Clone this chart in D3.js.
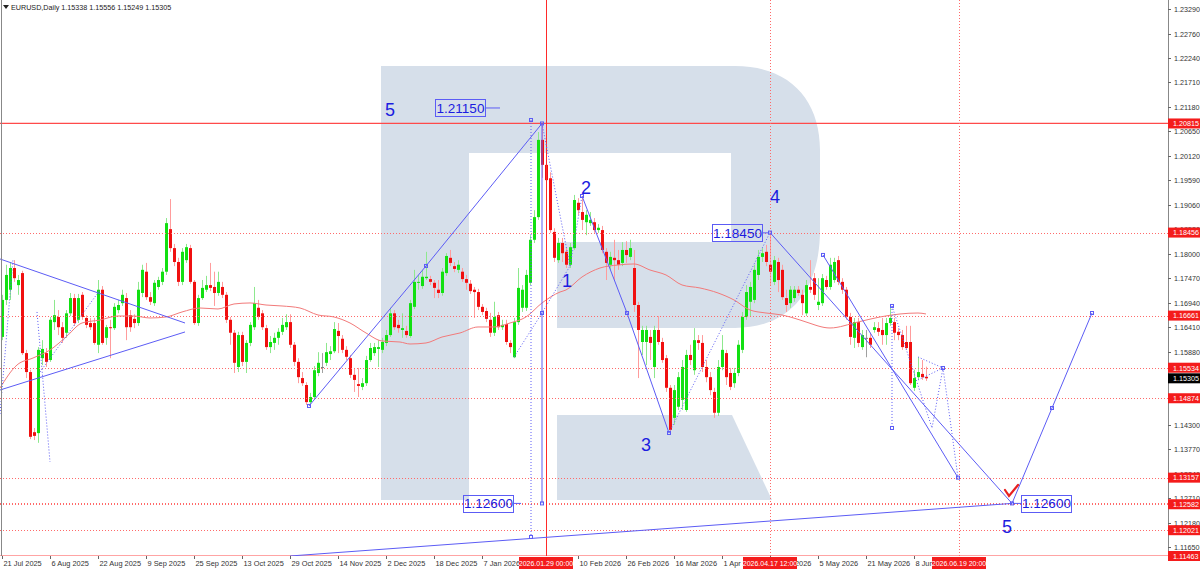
<!DOCTYPE html>
<html><head><meta charset="utf-8">
<script src="https://cdn.jsdelivr.net/npm/d3@7/dist/d3.min.js"></script>
<style>
html,body{margin:0;padding:0;background:#fff;overflow:hidden;}
svg{display:block;}
text{font-family:"Liberation Sans",Arial,sans-serif;}
</style></head><body>
<svg id="c" width="1200" height="569"></svg>
<script>
// ---------------- DATA ----------------
const headerText = "EURUSD,Daily  1.15338 1.15556 1.15249 1.15305";

const open = [
1.1620,1.1700,1.1722,1.1769,1.1732,1.1758,1.1585,1.1544,1.1414,1.1412,
1.1574,1.1585,1.1570,1.1652,1.1663,1.1641,1.1629,1.1671,1.1704,1.1657,
1.1711,1.1661,1.1650,1.1650,1.1603,1.1722,1.1618,1.1641,1.1639,1.1678,
1.1693,1.1704,1.1667,1.1659,1.1650,1.1715,1.1761,1.1706,1.1693,1.1728,
1.1739,1.1761,1.1853,1.1812,1.1782,1.1739,1.1786,1.1812,1.1739,1.1650,
1.1704,1.1722,1.1732,1.1728,1.1715,1.1728,1.1711,1.1657,1.1629,1.1555,
1.1624,1.1566,1.1607,1.1641,1.1683,1.1671,1.1639,1.1598,1.1607,1.1618,
1.1631,1.1641,1.1652,1.1603,1.1566,1.1531,1.1516,1.1479,1.1490,1.1542,
1.1555,1.1564,1.1583,1.1589,1.1633,1.1616,1.1592,1.1574,1.1538,1.1518,
1.1512,1.1520,1.1570,1.1585,1.1594,1.1592,1.1607,1.1624,1.1671,1.1646,
1.1635,1.1633,1.1622,1.1685,1.1737,1.1730,1.1747,1.1745,1.1737,1.1722,
1.1715,1.1758,1.1791,1.1773,1.1765,1.1761,1.1745,1.1735,1.1722,1.1717,
1.1685,1.1676,1.1657,1.1629,1.1667,1.1641,1.1648,1.1607,1.1576,1.1652,
1.1683,1.1683,1.1737,1.1830,1.1879,1.2046,1.1992,1.1963,1.1847,1.1786,
1.1823,1.1804,1.1776,1.1812,1.1910,1.1890,1.1868,1.1866,1.1868,1.1851,
1.1851,1.1804,1.1776,1.1791,1.1786,1.1780,1.1808,1.1793,1.1769,1.1689,
1.1609,1.1609,1.1620,1.1555,1.1635,1.1609,1.1574,1.1510,1.1445,1.1469,
1.1484,1.1462,1.1581,1.1548,1.1613,1.1607,1.1555,1.1533,1.1501,1.1456,
1.1555,1.1585,1.1542,1.1520,1.1542,1.1592,1.1663,1.1696,1.1700,1.1754,
1.1793,1.1804,1.1776,1.1739,1.1782,1.1765,1.1704,1.1693,1.1704,1.1722,
1.1711,1.1671,1.1728,1.1747,1.1689,1.1693,1.1743,1.1728,1.1743,1.1786,
1.1739,1.1722,1.1663,1.1618,1.1652,1.1598,1.1618,1.1618,1.1635,1.1639,
1.1635,1.1624,1.1650,1.1652,1.1631,1.1624,1.1609,1.1609,1.1510,1.1533,
1.1540,1.15338];

const high = [
1.1711,1.1776,1.1782,1.1786,1.1754,1.1763,1.1592,1.1549,1.1423,1.1598,
1.1613,1.1596,1.1663,1.1700,1.1678,1.1652,1.1678,1.1715,1.1713,1.1713,
1.1717,1.1667,1.1661,1.1661,1.1743,1.1730,1.1646,1.1657,1.1693,1.1700,
1.1722,1.1715,1.1678,1.1669,1.1739,1.1776,1.1780,1.1717,1.1743,1.1750,
1.1769,1.1877,1.1918,1.1821,1.1791,1.1812,1.1821,1.1819,1.1743,1.1711,
1.1743,1.1752,1.1780,1.1761,1.1761,1.1739,1.1717,1.1663,1.1635,1.1631,
1.1631,1.1613,1.1652,1.1728,1.1700,1.1678,1.1646,1.1622,1.1629,1.1639,
1.1661,1.1669,1.1669,1.1609,1.1574,1.1544,1.1522,1.1499,1.1557,1.1587,
1.1585,1.1607,1.1600,1.1652,1.1650,1.1624,1.1600,1.1581,1.1553,1.1553,
1.1531,1.1579,1.1607,1.1607,1.1613,1.1618,1.1635,1.1683,1.1678,1.1657,
1.1671,1.1644,1.1700,1.1765,1.1754,1.1765,1.1804,1.1752,1.1743,1.1743,
1.1769,1.1801,1.1808,1.1782,1.1786,1.1769,1.1754,1.1743,1.1728,1.1724,
1.1691,1.1683,1.1672,1.1696,1.1674,1.1657,1.1657,1.1613,1.1661,1.1769,
1.1732,1.1765,1.1840,1.1894,1.2063,1.20815,1.2024,1.1976,1.1855,1.1834,
1.1834,1.1812,1.1823,1.1927,1.1920,1.1925,1.1894,1.1890,1.1877,1.1864,
1.1860,1.1812,1.1804,1.1830,1.1808,1.1825,1.1827,1.1830,1.1808,1.1696,
1.1644,1.1644,1.1635,1.1644,1.1665,1.1618,1.1581,1.1516,1.1516,1.1544,
1.1570,1.1592,1.1603,1.1639,1.1624,1.1624,1.1570,1.1544,1.1510,1.1570,
1.1624,1.1592,1.1553,1.1553,1.1613,1.1674,1.1732,1.1739,1.1776,1.1808,
1.1812,1.1819,1.18456,1.1795,1.1791,1.1776,1.1722,1.1730,1.1730,1.1730,
1.1722,1.1743,1.1786,1.1758,1.1747,1.1756,1.1752,1.1791,1.1791,1.1795,
1.1747,1.1728,1.1672,1.1661,1.1661,1.1635,1.1635,1.1629,1.1652,1.1652,
1.1661,1.1661,1.1689,1.1661,1.1639,1.1635,1.1644,1.1644,1.1549,1.1576,
1.1570,1.15556];

const low = [
1.1613,1.1689,1.1700,1.1739,1.1711,1.1581,1.1531,1.1399,1.1397,1.1391,
1.1559,1.1555,1.1566,1.1635,1.1624,1.1607,1.1618,1.1665,1.1644,1.1650,
1.1657,1.1639,1.1635,1.1603,1.1585,1.1603,1.1603,1.1574,1.1635,1.1671,
1.1687,1.1613,1.1631,1.1639,1.1644,1.1706,1.1700,1.1689,1.1687,1.1722,
1.1732,1.1754,1.1804,1.1773,1.1730,1.1732,1.1780,1.1735,1.1646,1.1644,
1.1700,1.1717,1.1719,1.1687,1.1709,1.1704,1.1650,1.1603,1.1542,1.1544,
1.1557,1.1542,1.1600,1.1635,1.1657,1.1635,1.1592,1.1585,1.1592,1.1603,
1.1624,1.1635,1.1596,1.1557,1.1520,1.1514,1.1473,1.1468,1.1484,1.1535,
1.1542,1.1557,1.1570,1.1585,1.1585,1.1585,1.1570,1.1531,1.1501,1.1490,
1.1505,1.1514,1.1566,1.1579,1.1555,1.1585,1.1600,1.1620,1.1635,1.1629,
1.1618,1.1618,1.1618,1.1680,1.1722,1.1724,1.1743,1.1732,1.1704,1.1704,
1.1709,1.1752,1.1773,1.1760,1.1758,1.1739,1.1722,1.1713,1.1661,1.1678,
1.1667,1.1652,1.1620,1.1622,1.1635,1.1635,1.1603,1.1585,1.1574,1.1646,
1.1674,1.1676,1.1732,1.1823,1.1873,1.1964,1.1894,1.1845,1.1782,1.1780,
1.1782,1.1769,1.1769,1.1808,1.1884,1.1851,1.1840,1.1860,1.1845,1.1845,
1.1801,1.1743,1.1765,1.1743,1.1765,1.1773,1.1780,1.1786,1.1674,1.1531,
1.1581,1.1559,1.1570,1.1531,1.1603,1.1564,1.1501,1.1412,1.1430,1.1462,
1.1462,1.1458,1.1559,1.1538,1.1592,1.1544,1.1522,1.1494,1.1445,1.1449,
1.1548,1.1516,1.1505,1.1510,1.1535,1.1585,1.1657,1.1665,1.1693,1.1743,
1.1782,1.1773,1.1732,1.1732,1.1717,1.1700,1.1674,1.1683,1.1696,1.1709,
1.1667,1.1665,1.1715,1.1700,1.1678,1.1687,1.1722,1.1722,1.1737,1.1732,
1.1713,1.1657,1.1603,1.1596,1.1598,1.1592,1.1576,1.1596,1.1629,1.1622,
1.1603,1.1603,1.1644,1.1613,1.1613,1.1592,1.1592,1.1516,1.1503,1.1527,
1.1527,1.15249];

const close = [
1.1700,1.1754,1.1769,1.1747,1.1743,1.1585,1.1544,1.1404,1.1406,1.1592,
1.1594,1.1566,1.1657,1.1667,1.1641,1.1618,1.1671,1.1704,1.1650,1.1704,
1.1663,1.1646,1.1641,1.1607,1.1722,1.1607,1.1641,1.1639,1.1685,1.1689,
1.1711,1.1641,1.1641,1.1650,1.1722,1.1765,1.1706,1.1696,1.1737,1.1743,
1.1761,1.1866,1.1812,1.1782,1.1739,1.1804,1.1814,1.1739,1.1650,1.1704,
1.1726,1.1732,1.1726,1.1715,1.1739,1.1711,1.1657,1.1629,1.1564,1.1624,
1.1566,1.1607,1.1646,1.1693,1.1663,1.1641,1.1598,1.1609,1.1618,1.1631,
1.1646,1.1652,1.1603,1.1566,1.1533,1.1520,1.1479,1.1490,1.1548,1.1564,
1.1555,1.1587,1.1589,1.1637,1.1622,1.1592,1.1577,1.1538,1.1527,1.1514,
1.1520,1.1570,1.1596,1.1598,1.1598,1.1609,1.1624,1.1671,1.1641,1.1639,
1.1639,1.1624,1.1693,1.1739,1.1739,1.1750,1.1750,1.1739,1.1726,1.1715,
1.1761,1.1795,1.1780,1.1767,1.1776,1.1745,1.1737,1.1719,1.1717,1.1685,
1.1674,1.1659,1.1629,1.1663,1.1641,1.1646,1.1609,1.1598,1.1652,1.1726,
1.1722,1.1754,1.1830,1.1879,1.2046,1.1992,1.1959,1.1851,1.1791,1.1823,
1.1801,1.1776,1.1814,1.1916,1.1894,1.1873,1.1884,1.1873,1.1851,1.1856,
1.1808,1.1780,1.1793,1.1786,1.1776,1.1808,1.1797,1.1812,1.1689,1.1635,
1.1635,1.1635,1.1607,1.1635,1.1609,1.1570,1.1510,1.1419,1.1505,1.1533,
1.1555,1.1581,1.1570,1.1613,1.1607,1.1555,1.1533,1.1505,1.1456,1.1555,
1.1592,1.1533,1.1512,1.1542,1.1603,1.1663,1.1717,1.1728,1.1765,1.1793,
1.1801,1.1782,1.1761,1.1786,1.1743,1.1706,1.1689,1.1722,1.1722,1.1715,
1.1693,1.1732,1.1722,1.1711,1.1696,1.1747,1.1728,1.1776,1.1782,1.1739,
1.1722,1.1663,1.1620,1.1652,1.1607,1.1624,1.1618,1.1603,1.1641,1.1631,
1.1624,1.1650,1.1661,1.1629,1.1624,1.1598,1.1596,1.1520,1.1531,1.1544,
1.1533,1.15305];

// moving average (bar index, value)
const maBars = [-0.5,3.75,7.75,12,16,20,24.5,29,33,37,41,45,49.5,54,58,62,66,70,74.5,79,83,87,91,95,99.5,102,106,110,114.5,119,123,127,131,135,139.5,141,145,149.5,154,158,162,166,170,174.5,179,183,187,191,195,199.5,201,207,214,219.5,224.5,229,231];
const maValues = [1.15096,1.15593,1.15744,1.15917,1.16198,1.16501,1.16566,1.16652,1.16652,1.16609,1.16631,1.16739,1.16825,1.16804,1.16912,1.16934,1.16890,1.16869,1.16825,1.16674,1.16631,1.16501,1.16285,1.16112,1.16090,1.16047,1.16069,1.16198,1.16285,1.16415,1.16415,1.16501,1.16631,1.16934,1.17171,1.17215,1.17496,1.17690,1.17755,1.17777,1.17647,1.17539,1.17323,1.17258,1.17150,1.16999,1.16782,1.16717,1.16674,1.16566,1.16523,1.16393,1.16523,1.16631,1.16696,1.16717,1.16696];

const xTickBars   = [0,12,24,36,48,60,72,84,96,108,120,144,156,168,180,192,204,216,228];
const xTickLabels = ["21 Jul 2025","6 Aug 2025","22 Aug 2025","9 Sep 2025","25 Sep 2025","13 Oct 2025","29 Oct 2025","14 Nov 2025","2 Dec 2025","18 Dec 2025","7 Jan 2026","10 Feb 2026","26 Feb 2026","16 Mar 2026","1 Apr 2026","17 Apr 2026","5 May 2026","21 May 2026","8 Jun 2026"];

// tick labels that stay visible on the price scale
const yTicks = [1.23290,1.22760,1.22240,1.21710,1.21180,1.20650,1.20120,1.19590,1.19060,1.18530,1.18000,1.17470,1.16940,1.16410,1.15880,1.14300,1.13770,1.13240,1.12710,1.12180,1.11650];

const solidLevels  = [1.20815, 1.11463];
const dottedLevels = [1.18456, 1.16661, 1.15534, 1.14874, 1.13157, 1.12600, 1.12582, 1.12021];
const axisLevelLabels = [1.20815, 1.18456, 1.16661, 1.15534, 1.14874, 1.13157, 1.12582, 1.12021, 1.11463];
const lastPrice = 1.15305;

const timeLineBars   = [136, 192, 239.25];
const timeLineLabels = ["2026.01.29 00:00", "2026.04.17 12:00", "2026.06.19 20:00"];
const timeLineSolid  = [true, false, false];

// wave annotation geometry in (bar, price)
const solidPaths = [
  [[-0.5,1.17885],[45.75,1.16501]],
  [[-0.5,1.15052],[45.75,1.16307]],
  [[76.75,1.14707],[106,1.17734],[135,1.20815]],
  [[135,1.20815],[135,1.12600]],
  [[145,1.19247],[156.25,1.16717],[166.75,1.14123]],
  [[192,1.18456],[252.5,1.12600]],
  [[205.25,1.17972],[239,1.13157]],
  [[252.5,1.12600],[262.5,1.14663],[272.5,1.16717]],
  [[72,1.11463],[252.5,1.12600]]
];
const dottedPaths = [
  [[-0.5,1.14534],[2.75,1.17885]],
  [[8.75,1.16739],[12,1.13496]],
  [[9.5,1.15442],[24.5,1.17215]],
  [[132.25,1.20890],[132.25,1.11874]],
  [[135,1.20815],[142,1.17734]],
  [[128,1.15766],[135,1.16717],[142,1.17734]],
  [[142,1.17734],[145,1.19247]],
  [[166.75,1.14123],[192,1.18456]],
  [[222.5,1.16869],[222.5,1.14231]],
  [[222.5,1.16869],[232.5,1.14231],[235.25,1.15528],[239,1.13157]],
  [[229,1.15766],[235.25,1.15528],[229,1.15269]]
];
const markerPoints = [[76.75,1.14707],[106,1.17734],[135,1.20815],[135,1.16717],[135,1.12600],[132.25,1.20890],[132.25,1.11874],[145,1.19247],[156.25,1.16717],[166.75,1.14123],[192,1.18456],[205.25,1.17972],[222.5,1.16869],[222.5,1.14231],[235.25,1.15528],[239,1.13157],[252.5,1.12600],[262.5,1.14663],[272.5,1.16717]];

const waveLabels = ["5","1","2","3","4","5"];
const waveBars   = [97, 141.25, 146, 161, 193.25, 251.25];
const wavePrices = [1.21107, 1.17409, 1.19420, 1.13864, 1.19225, 1.12090];

const boxTexts  = ["1.21150","1.18450","1.12600","1.12600"];
const boxEdge   = [120.75, 190, 127.75, 254.75];
const boxPrice  = [1.21150, 1.18450, 1.12600, 1.12600];
const boxDashTo = [124.5, 191.75, 129.75, 252.75];
const boxDir    = [-1, -1, -1, 1];

const checkMark = [[250.75,1.12890],[251.75,1.12761],[254,1.12999]];

// ---------------- DRAW ----------------
const svg = d3.select("#c");
const W = 1200, H = 569, plotR = 1168, plotB = 556;
const X = d3.scaleLinear().domain([-0.5, 291.5]).range([0, plotR]);
const Y = d3.scaleLinear().domain([1.11463, 1.23290]).range([plotB, 9]);

const BLUE = "#5c5cf5", TXTBLUE = "#1c1ce0", RED = "#ff4a4a", REDDOT = "#ff6a6a";

svg.append("rect").attr("width", W).attr("height", H).attr("fill", "#fff");

const defs = svg.append("defs");
defs.append("clipPath").attr("id","clp").append("rect").attr("x",0).attr("y",0).attr("width",plotR).attr("height",plotB);

const plot = svg.append("g");
// watermark logo
const wm = plot.append("g").attr("fill", "#d6dfea");
wm.append("rect").attr("x",381).attr("y",66).attr("width",88).attr("height",434);
wm.append("path").attr("d","M469,66 L735,66 C790,66 820,100 820,150 L820,230 C820,290 790,328 735,328 L557,328 L557,242 L731,242 L731,153 L469,153 Z");
wm.append("path").attr("d","M557,415 L732,415 L772,500 L557,500 Z");

const g = plot.append("g").attr("clip-path","url(#clp)");

// candles
const idx = d3.range(close.length);
const wickCol = i => close[i] > open[i] ? "#8ee88e" : (close[i] < open[i] ? "#ff9c9c" : "#a0a0a0");
const bodyCol = i => close[i] > open[i] ? "#12e012" : (close[i] < open[i] ? "#f01010" : "#808080");
g.append("g").attr("class","wicks").selectAll("line").data(idx).join("line")
  .attr("x1", i => X(i)+0.5).attr("x2", i => X(i)+0.5)
  .attr("y1", i => Y(high[i])).attr("y2", i => Y(low[i]))
  .attr("stroke", wickCol).attr("stroke-width", 1);
g.append("g").attr("class","bodies").selectAll("rect").data(idx).join("rect")
  .attr("x", i => X(i)-1).attr("width", 3)
  .attr("y", i => Y(Math.max(open[i], close[i])))
  .attr("height", i => Math.max(1, Math.abs(Y(open[i]) - Y(close[i]))))
  .attr("fill", bodyCol);

// moving average
g.append("path").datum(maBars.map((b,k)=>[b,maValues[k]]))
  .attr("d", d3.line().x(d=>X(d[0])).y(d=>Y(d[1])).curve(d3.curveMonotoneX))
  .attr("fill","none").attr("stroke","#f27a7a").attr("stroke-width",1);

// horizontal levels
const lv = g.append("g").attr("class","levels");
dottedLevels.forEach(d=>{
  const y = Math.round(Y(d))+0.5;
  lv.append("line").attr("x1",0).attr("x2",plotR).attr("y1",y).attr("y2",y)
    .attr("stroke",REDDOT).attr("stroke-width",1).attr("stroke-dasharray","1,2");
});
solidLevels.forEach(d=>{
  const y = Y(d);
  lv.append("line").attr("x1",0).attr("x2",plotR).attr("y1",y).attr("y2",y)
    .attr("stroke",RED).attr("stroke-width",1.2);
});

// vertical time lines
timeLineBars.forEach((b,k)=>{
  g.append("line").attr("x1",Math.round(X(b))+0.5).attr("x2",Math.round(X(b))+0.5).attr("y1",0).attr("y2",plotB)
   .attr("stroke", timeLineSolid[k] ? "#ff2a2a" : REDDOT).attr("stroke-width",1)
   .attr("stroke-dasharray", timeLineSolid[k] ? null : "1,2");
});

// wave lines
const ln = d3.line().x(d=>X(d[0])).y(d=>Y(d[1]));
solidPaths.forEach(p => g.append("path").attr("d", ln(p)).attr("fill","none").attr("stroke",BLUE).attr("stroke-width",1));
dottedPaths.forEach(p => g.append("path").attr("d", ln(p)).attr("fill","none").attr("stroke",BLUE).attr("stroke-width",1).attr("stroke-dasharray","1,2"));
g.append("g").selectAll("rect").data(markerPoints).join("rect")
  .attr("x",d=>X(d[0])-1.5).attr("y",d=>Y(d[1])-1.5).attr("width",3).attr("height",3)
  .attr("fill","none").attr("stroke",BLUE).attr("stroke-width",1);

// check mark
g.append("path").attr("d", ln(checkMark)).attr("fill","none").attr("stroke","#e82020").attr("stroke-width",2.2).attr("stroke-linecap","round");

// wave labels
waveLabels.forEach((t,k)=>{
  g.append("text").attr("x",X(waveBars[k])).attr("y",Y(wavePrices[k])).attr("text-anchor","middle")
   .attr("dominant-baseline","central").attr("font-size",18).attr("fill",TXTBLUE).text(t);
});

// price boxes
boxTexts.forEach((t,k)=>{
  const e = X(boxEdge[k]), y = Y(boxPrice[k]), w = 50, h = 17;
  const x0 = boxDir[k] < 0 ? e - w : e;
  g.append("line").attr("x1",e).attr("x2",X(boxDashTo[k])).attr("y1",y).attr("y2",y).attr("stroke",BLUE);
  g.append("rect").attr("x",x0+0.5).attr("y",Math.round(y-h/2)+0.5).attr("width",w).attr("height",h)
   .attr("fill","none").attr("stroke",BLUE).attr("stroke-width",1);
  g.append("text").attr("x",x0+w/2+0.5).attr("y",y+0.5).attr("text-anchor","middle").attr("dominant-baseline","central")
   .attr("font-size",13.5).attr("fill",TXTBLUE).text(t);
});

// frame
svg.append("line").attr("x1",1.5).attr("x2",1.5).attr("y1",0).attr("y2",plotB).attr("stroke","#888");
svg.append("line").attr("x1",plotR+0.5).attr("x2",plotR+0.5).attr("y1",0).attr("y2",plotB+1).attr("stroke","#888");

// y axis
const ya = svg.append("g");
yTicks.forEach(v=>{
  const y = Math.round(Y(v))+0.5;
  ya.append("line").attr("x1",plotR).attr("x2",plotR+3).attr("y1",y).attr("y2",y).attr("stroke","#666");
  ya.append("text").attr("x",plotR+6).attr("y",y).attr("dominant-baseline","central").attr("font-size",7.2).attr("fill","#333").text(v.toFixed(5));
});
axisLevelLabels.forEach(v=>{
  const y = Y(v);
  ya.append("rect").attr("x",plotR).attr("y",y-5).attr("width",32).attr("height",10).attr("fill","#f41c1c");
  ya.append("text").attr("x",plotR+5).attr("y",y+0.3).attr("dominant-baseline","central").attr("font-size",7.2).attr("fill","#fff").text(v.toFixed(5));
});
{
  const y = Y(lastPrice);
  ya.append("rect").attr("x",plotR).attr("y",y-5).attr("width",32).attr("height",10).attr("fill","#000");
  ya.append("text").attr("x",plotR+5).attr("y",y+0.3).attr("dominant-baseline","central").attr("font-size",7.2).attr("fill","#fff").text(lastPrice.toFixed(5));
}

// x axis
const xa = svg.append("g");
xTickBars.forEach((b,k)=>{
  const x = Math.round(X(b))+0.5;
  xa.append("line").attr("x1",x).attr("x2",x).attr("y1",plotB).attr("y2",plotB+3).attr("stroke","#666");
  xa.append("text").attr("x",x+1).attr("y",565.5).attr("font-size",7.4).attr("fill","#333").text(xTickLabels[k]);
});
timeLineBars.forEach((b,k)=>{
  const x = X(b);
  xa.append("rect").attr("x",x-27).attr("y",557).attr("width",54).attr("height",12).attr("fill","#f41c1c");
  xa.append("text").attr("x",x).attr("y",565.5).attr("text-anchor","middle").attr("font-size",7).attr("fill","#fff").text(timeLineLabels[k]);
});

// header
svg.append("path").attr("d","M3,5 L9,5 L6,9 Z").attr("fill","#222");
svg.append("text").attr("x",11).attr("y",9.5).attr("font-size",7.2).attr("fill","#222").text(headerText);
</script>
</body></html>
